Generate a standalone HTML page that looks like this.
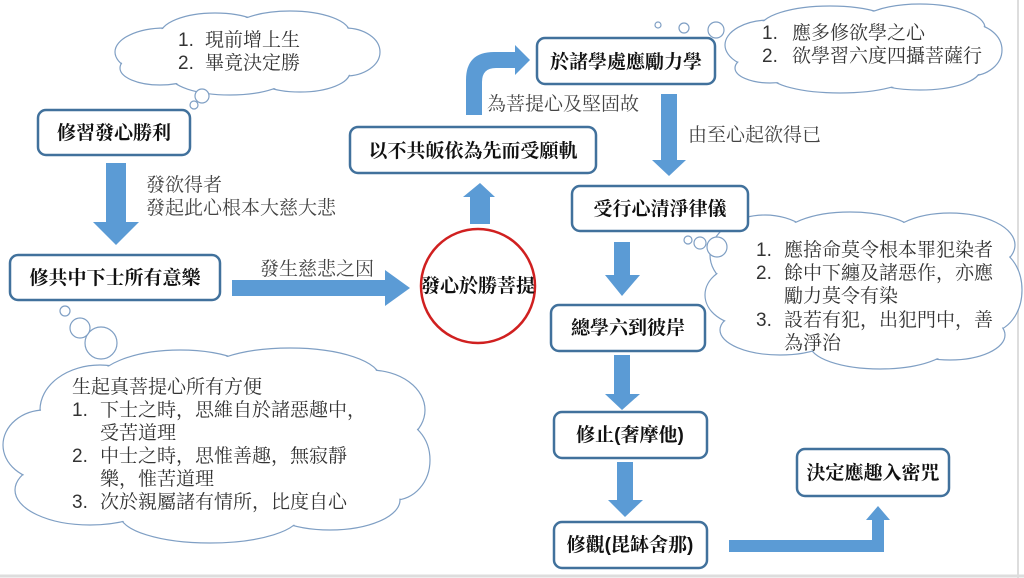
<!DOCTYPE html>
<html><head><meta charset="utf-8"><style>
html,body{margin:0;padding:0;background:#fff;width:1024px;height:578px;overflow:hidden}
svg text{font-family:"Liberation Sans","Noto Serif CJK SC",serif}
.b{font-weight:bold;font-size:19px;fill:#111}
.t{font-size:19px;fill:#444}
.c{font-size:19px;fill:#333}
</style></head><body>
<svg width="1024" height="578" viewBox="0 0 1024 578" xmlns="http://www.w3.org/2000/svg">
<rect x="0" y="0" width="1024" height="578" fill="#fff"/>
<line x1="1018" y1="0" x2="1018" y2="578" stroke="#ddd" stroke-width="2"/>
<line x1="0" y1="576" x2="1024" y2="576" stroke="#ddd" stroke-width="3"/>

<!-- clouds -->
<g stroke="#7f9fc4" stroke-width="1.2" fill="#fff">
  <ellipse cx="165" cy="52" rx="50" ry="24"/><ellipse cx="215" cy="35" rx="55" ry="22"/>
  <ellipse cx="290" cy="33" rx="60" ry="22"/><ellipse cx="345" cy="52" rx="35" ry="24"/>
  <ellipse cx="300" cy="72" rx="50" ry="20"/><ellipse cx="230" cy="75" rx="60" ry="20"/>
  <ellipse cx="160" cy="68" rx="40" ry="17"/>
  <ellipse cx="770" cy="45" rx="45" ry="25"/><ellipse cx="830" cy="28" rx="70" ry="22"/>
  <ellipse cx="920" cy="28" rx="65" ry="24"/><ellipse cx="970" cy="50" rx="32" ry="26"/>
  <ellipse cx="920" cy="70" rx="60" ry="20"/><ellipse cx="840" cy="75" rx="70" ry="18"/>
  <ellipse cx="770" cy="68" rx="35" ry="15"/>
  <ellipse cx="765" cy="255" rx="55" ry="40"/><ellipse cx="850" cy="240" rx="70" ry="28"/>
  <ellipse cx="950" cy="245" rx="65" ry="32"/><ellipse cx="990" cy="290" rx="32" ry="42"/>
  <ellipse cx="950" cy="335" rx="55" ry="25"/><ellipse cx="880" cy="345" rx="70" ry="24"/>
  <ellipse cx="780" cy="330" rx="60" ry="25"/><ellipse cx="745" cy="295" rx="40" ry="30"/>
  <ellipse cx="100" cy="410" rx="60" ry="45"/><ellipse cx="180" cy="385" rx="85" ry="35"/>
  <ellipse cx="290" cy="378" rx="90" ry="30"/><ellipse cx="370" cy="410" rx="55" ry="40"/>
  <ellipse cx="395" cy="460" rx="35" ry="40"/><ellipse cx="330" cy="500" rx="70" ry="30"/>
  <ellipse cx="210" cy="515" rx="90" ry="28"/><ellipse cx="90" cy="490" rx="75" ry="35"/>
  <ellipse cx="45" cy="445" rx="42" ry="35"/>
</g>
<g fill="#fff">
 <ellipse cx="165" cy="52" rx="49" ry="23"/><ellipse cx="215" cy="35" rx="54" ry="21"/>
 <ellipse cx="290" cy="33" rx="59" ry="21"/><ellipse cx="345" cy="52" rx="34" ry="23"/>
 <ellipse cx="300" cy="72" rx="49" ry="19"/><ellipse cx="230" cy="75" rx="59" ry="19"/>
 <ellipse cx="160" cy="68" rx="39" ry="16"/>
 <ellipse cx="770" cy="45" rx="44" ry="24"/><ellipse cx="830" cy="28" rx="69" ry="21"/>
 <ellipse cx="920" cy="28" rx="64" ry="23"/><ellipse cx="970" cy="50" rx="31" ry="25"/>
 <ellipse cx="920" cy="70" rx="59" ry="19"/><ellipse cx="840" cy="75" rx="69" ry="17"/>
 <ellipse cx="770" cy="68" rx="34" ry="14"/>
 <ellipse cx="765" cy="255" rx="54" ry="39"/><ellipse cx="850" cy="240" rx="69" ry="27"/>
 <ellipse cx="950" cy="245" rx="64" ry="31"/><ellipse cx="990" cy="290" rx="31" ry="41"/>
 <ellipse cx="950" cy="335" rx="54" ry="24"/><ellipse cx="880" cy="345" rx="69" ry="23"/>
 <ellipse cx="780" cy="330" rx="59" ry="24"/><ellipse cx="745" cy="295" rx="39" ry="29"/>
 <ellipse cx="100" cy="410" rx="59" ry="44"/><ellipse cx="180" cy="385" rx="84" ry="34"/>
 <ellipse cx="290" cy="378" rx="89" ry="29"/><ellipse cx="370" cy="410" rx="54" ry="39"/>
 <ellipse cx="395" cy="460" rx="34" ry="39"/><ellipse cx="330" cy="500" rx="69" ry="29"/>
 <ellipse cx="210" cy="515" rx="89" ry="27"/><ellipse cx="90" cy="490" rx="74" ry="34"/>
 <ellipse cx="45" cy="445" rx="41" ry="34"/>
 <rect x="160" y="45" width="180" height="30"/><rect x="765" y="35" width="195" height="40"/>
 <rect x="745" y="250" width="235" height="90"/><rect x="60" y="395" width="330" height="105"/>
</g>
<g fill="#fff" stroke="#7f9fc4" stroke-width="1.2">
 <circle cx="202" cy="96" r="7"/><circle cx="194" cy="105" r="4"/>
 <circle cx="716" cy="30" r="8"/><circle cx="684" cy="28" r="5"/><circle cx="658" cy="25" r="3"/>
 <circle cx="717" cy="247" r="10"/><circle cx="700" cy="243" r="6"/><circle cx="688" cy="240" r="4"/>
 <circle cx="101" cy="343" r="16"/><circle cx="80" cy="328" r="10"/><circle cx="65" cy="311" r="5"/>
</g>

<!-- cloud texts -->
<text class="c" x="178" y="46">1.</text><text class="c" x="205" y="46">現前增上生</text>
<text class="c" x="178" y="69">2.</text><text class="c" x="205" y="69">畢竟決定勝</text>
<text class="c" x="762" y="39">1.</text><text class="c" x="792" y="39">應多修欲學之心</text>
<text class="c" x="762" y="62">2.</text><text class="c" x="792" y="62">欲學習六度四攝菩薩行</text>
<text class="c" x="756" y="256">1.</text><text class="c" x="784" y="256">應捨命莫令根本罪犯染者</text>
<text class="c" x="756" y="279">2.</text><text class="c" x="784" y="279">餘中下纏及諸惡作，亦應</text>
<text class="c" x="784" y="302">勵力莫令有染</text>
<text class="c" x="756" y="326">3.</text><text class="c" x="784" y="326">設若有犯，出犯門中，善</text>
<text class="c" x="784" y="349">為淨治</text>
<text class="c" x="72" y="393">生起真菩提心所有方便</text>
<text class="c" x="72" y="416">1.</text><text class="c" x="100" y="416">下士之時，思維自於諸惡趣中，</text>
<text class="c" x="100" y="439">受苦道理</text>
<text class="c" x="72" y="462">2.</text><text class="c" x="100" y="462">中士之時，思惟善趣，無寂靜</text>
<text class="c" x="100" y="485">樂，惟苦道理</text>
<text class="c" x="72" y="508">3.</text><text class="c" x="100" y="508">次於親屬諸有情所，比度自心</text>

<!-- arrows -->
<g fill="#5b9bd5">
 <polygon points="106,163 126,163 126,222 139,222 116,245 93,222 106,222"/>
 <polygon points="232,280 385,280 385,270 410,288 385,306 385,296 232,296"/>
 <polygon points="470,224 490,224 490,197 495,197 480,183 463,197 470,197"/>
 <path d="M466,115 L466,80 Q466,52 494,52 L515,52 L515,45 L530,60 L515,75 L515,68 L496,68 Q482,68 482,82 L482,115 Z"/>
 <polygon points="661,94 677,94 677,160 686,160 669,176 652,160 661,160"/>
 <polygon points="614,242 630,242 630,275 640,275 622,296 605,275 614,275"/>
 <polygon points="614,355 630,355 630,394 640,394 622,410 605,394 614,394"/>
 <polygon points="617,462 633,462 633,500 643,500 625,517 608,500 617,500"/>
 <polygon points="729,540 872,540 872,520 866,520 878,506 890,520 884,520 884,552 729,552"/>
</g>

<!-- boxes -->
<g fill="#fff" stroke="#41719c" stroke-width="2.5">
 <rect x="38" y="110" width="152" height="45" rx="8"/>
 <rect x="10" y="255" width="210" height="45" rx="8"/>
 <rect x="350" y="127" width="246" height="46" rx="8"/>
 <rect x="537" y="38" width="178" height="46" rx="8"/>
 <rect x="572" y="186" width="176" height="45" rx="8"/>
 <rect x="551" y="305" width="154" height="46" rx="8"/>
 <rect x="554" y="412" width="153" height="46" rx="8"/>
 <rect x="554" y="522" width="153" height="46" rx="8"/>
 <rect x="797" y="449" width="152" height="47" rx="8"/>
</g>
<circle cx="478" cy="286" r="57" fill="#fff" stroke="#d02020" stroke-width="2.5"/>

<text class="b" x="114" y="139" text-anchor="middle">修習發心勝利</text>
<text class="b" x="115" y="284" text-anchor="middle">修共中下士所有意樂</text>
<text class="b" x="473" y="157" text-anchor="middle">以不共皈依為先而受願軌</text>
<text class="b" x="626" y="68" text-anchor="middle">於諸學處應勵力學</text>
<text class="b" x="660" y="215" text-anchor="middle">受行心清淨律儀</text>
<text class="b" x="628" y="334" text-anchor="middle">總學六到彼岸</text>
<text class="b" x="630" y="441" text-anchor="middle">修止(奢摩他)</text>
<text class="b" x="630" y="551" text-anchor="middle">修觀(毘缽舍那)</text>
<text class="b" x="873" y="479" text-anchor="middle">決定應趣入密咒</text>
<text class="b" x="478" y="292" text-anchor="middle">發心於勝菩提</text>

<text class="t" x="146" y="191">發欲得者</text>
<text class="t" x="146" y="214">發起此心根本大慈大悲</text>
<text class="t" x="260" y="275">發生慈悲之因</text>
<text class="t" x="487" y="110">為菩提心及堅固故</text>
<text class="t" x="688" y="141">由至心起欲得已</text>
</svg>
</body></html>
